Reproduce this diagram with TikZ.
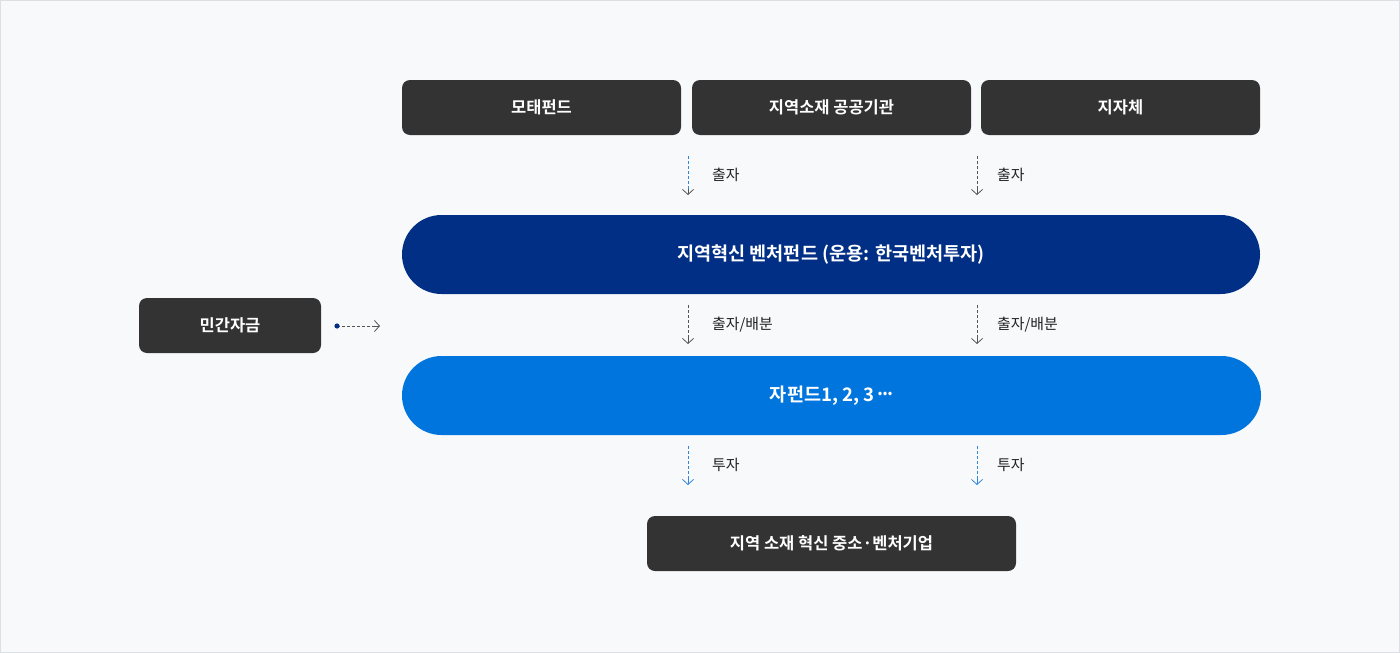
\documentclass[tikz,border=0pt]{standalone}
\usepackage{fontspec}
\setmainfont{Noto Sans CJK KR}
\newfontfamily\krbold{Noto Sans CJK KR Bold}
\usetikzlibrary{arrows.meta,calc}
\definecolor{bgc}{HTML}{F8F9FB}
\definecolor{bdc}{HTML}{DCDFE3}
\definecolor{darkbox}{HTML}{333333}
\definecolor{navy}{HTML}{012F86}
\definecolor{skyblue}{HTML}{0075DE}
\definecolor{dashblue}{HTML}{2F86DD}
\definecolor{dashgray}{HTML}{555555}
\definecolor{labelc}{HTML}{222222}
\tikzset{
  darkbox/.style={fill=darkbox, rounded corners=8pt, text=white, inner sep=0pt,
    minimum height=55pt, font=\krbold\fontsize{16.5}{19}\selectfont},
  pill/.style={rounded corners=39.5pt, text=white, inner sep=0pt, minimum height=79pt,
    font=\krbold\fontsize{18.6}{22}\selectfont},
  grayflow/.style={draw=dashgray, dash pattern=on 3pt off 2pt, line width=0.7pt},
  blueflow/.style={draw=dashblue, dash pattern=on 3pt off 2pt, line width=0.8pt},
  graytip/.style={-{Straight Barb[length=5pt,width=11pt,line width=0.8pt]}, draw=dashgray, line width=0.8pt},
  bluetip/.style={-{Straight Barb[length=5pt,width=11pt,line width=0.8pt]}, draw=dashblue, line width=0.8pt},
  flowlabel/.style={anchor=west, text=labelc, font=\fontsize{14.9}{18}\selectfont, inner sep=0pt}
}
\begin{document}
\begin{tikzpicture}[x=1pt,y=-1pt]
\useasboundingbox (0,0) rectangle (1400,653);
\fill[bgc] (0,0) rectangle (1400,653);
\draw[bdc, line width=1pt] (0.5,0.5) rectangle (1399.5,652.5);

% top boxes
\node[darkbox, minimum width=279pt] (mf) at (541.5,107.5) {모태펀드};
\node[darkbox, minimum width=279pt] (pub) at (831.5,107.5) {지역소재 공공기관};
\node[darkbox, minimum width=279pt] (gov) at (1120.5,107.5) {지자체};

% fund pills
\node[pill, fill=navy, minimum width=858pt] (main) at (831,254.5) {지역혁신 벤처펀드 (운용: 한국벤처투자)};
\node[pill, fill=skyblue, minimum width=859pt] (sub) at (831.5,395.5) {자펀드1, 2, 3 \raisebox{0.3em}{\kern-1pt.\kern-1.5pt.\kern-1.5pt.}};

% bottom box
\node[darkbox, minimum width=369pt] (corp) at (831.5,543.5) {지역 소재 혁신 중소·벤처기업};

% left box
\node[darkbox, minimum width=182pt] (priv) at (230,325.5) {민간자금};

% coordinates for arrows
\coordinate (a1s) at (688,156); \coordinate (a1e) at (688,195);
\coordinate (a2s) at (977,156); \coordinate (a2e) at (977,195);
\coordinate (b1s) at (688,305); \coordinate (b1e) at (688,344);
\coordinate (b2s) at (977,305); \coordinate (b2e) at (977,344);
\coordinate (c1s) at (688,446); \coordinate (c1e) at (688,485);
\coordinate (c2s) at (977,446); \coordinate (c2e) at (977,485);
\coordinate (ps) at (337,326); \coordinate (pe) at (380,326);

% top row arrows
\draw[blueflow] (a1s) -- ($(a1e)+(0,-2)$);
\draw[graytip] ($(a1e)+(0,-6)$) -- (a1e);
\draw[grayflow] (a2s) -- ($(a2e)+(0,-2)$);
\draw[graytip] ($(a2e)+(0,-6)$) -- (a2e);
\node[flowlabel] (l1) at (712,175) {출자};
\node[flowlabel] (l2) at (997,175) {출자};

% middle row arrows
\draw[grayflow] (b1s) -- ($(b1e)+(0,-2)$);
\draw[graytip] ($(b1e)+(0,-6)$) -- (b1e);
\draw[grayflow] (b2s) -- ($(b2e)+(0,-2)$);
\draw[graytip] ($(b2e)+(0,-6)$) -- (b2e);
\node[flowlabel] (l3) at (712,325) {출자/배분};
\node[flowlabel] (l4) at (997,325) {출자/배분};

% bottom row arrows
\draw[blueflow] (c1s) -- ($(c1e)+(0,-2)$);
\draw[bluetip] ($(c1e)+(0,-6)$) -- (c1e);
\draw[blueflow] (c2s) -- ($(c2e)+(0,-2)$);
\draw[bluetip] ($(c2e)+(0,-6)$) -- (c2e);
\node[flowlabel] (l5) at (712,465) {투자};
\node[flowlabel] (l6) at (997,465) {투자};

% private fund arrow
\draw[grayflow] (ps) -- ($(pe)+(-2,0)$);
\draw[graytip] ($(pe)+(-6,0)$) -- (pe);
\fill[navy] (ps) circle (2.6pt);
\end{tikzpicture}
\end{document}
